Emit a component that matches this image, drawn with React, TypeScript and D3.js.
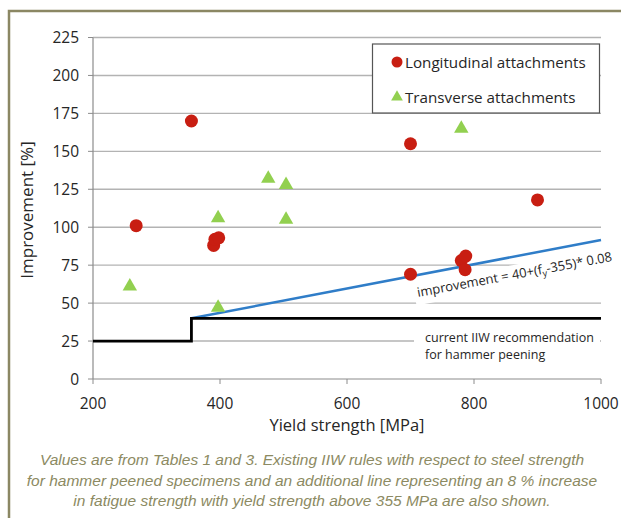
import React, { useRef, useEffect } from 'react';
import * as d3 from 'd3';

// scatter data
const longX = [268, 355, 390, 392, 398, 700, 700, 780, 786, 787, 900];
const longY = [101, 170, 88, 92, 93, 155, 69, 78, 72, 81, 118];
const transX = [258, 397, 397, 476, 504, 504, 780];
const transY = [61, 106, 47, 132, 128, 105, 165];

// current IIW step and the 8 % line
const iiwX = [200, 355, 355, 1000];
const iiwY = [25, 25, 40, 40];
const fitX = [355, 1000];
const fitY = [40, 91.6];

const yTicks = [0, 25, 50, 75, 100, 125, 150, 175, 200, 225];
const xTicks = [200, 400, 600, 800, 1000];

const caption = [
  'Values are from Tables 1 and 3. Existing IIW rules with respect to steel strength',
  'for hammer peened specimens and an additional line representing an 8 % increase',
  'in fatigue strength with yield strength above 355 MPa are also shown.',
];

const W = 621;
const H = 518;
const font = "'Open Sans', sans-serif";

const App = () => {
  const svgRef = useRef<SVGSVGElement>(null);

  useEffect(() => {
    const svg = d3.select(svgRef.current);
    svg.selectAll('*').remove();

    const x = d3.scaleLinear().domain([200, 1000]).range([93, 601]);
    const y = d3.scaleLinear().domain([0, 225]).range([379, 37.5]);

    svg.append('rect').attr('width', W).attr('height', H).attr('fill', '#fff');

    // olive frame
    svg.append('rect')
      .attr('x', 9).attr('y', 11)
      .attr('width', W).attr('height', H)
      .attr('fill', 'none')
      .attr('stroke', '#8b8763')
      .attr('stroke-width', 2.5);

    // gridlines
    svg.append('g')
      .selectAll('line')
      .data(yTicks.filter(d => d > 0))
      .enter()
      .append('line')
      .attr('x1', x(200)).attr('x2', x(1000))
      .attr('y1', d => y(d)).attr('y2', d => y(d))
      .attr('stroke', '#b3b3b3')
      .attr('stroke-width', 1.4);

    // axes
    const axisCol = '#8c8c8c';
    svg.append('line')
      .attr('x1', x(200)).attr('x2', x(200))
      .attr('y1', y(0)).attr('y2', y(225))
      .attr('stroke', axisCol).attr('stroke-width', 1.2);
    svg.append('line')
      .attr('x1', x(200)).attr('x2', x(1000))
      .attr('y1', y(0)).attr('y2', y(0))
      .attr('stroke', axisCol).attr('stroke-width', 1.2);

    svg.append('g')
      .selectAll('line')
      .data(yTicks)
      .enter()
      .append('line')
      .attr('x1', x(200) - 5).attr('x2', x(200))
      .attr('y1', d => y(d)).attr('y2', d => y(d))
      .attr('stroke', axisCol);
    svg.append('g')
      .selectAll('line')
      .data(xTicks)
      .enter()
      .append('line')
      .attr('x1', d => x(d)).attr('x2', d => x(d))
      .attr('y1', y(0)).attr('y2', y(0) + 5)
      .attr('stroke', axisCol);

    // tick labels
    svg.append('g')
      .selectAll('text')
      .data(yTicks)
      .enter()
      .append('text')
      .attr('x', 79)
      .attr('y', d => y(d) + 5.5)
      .attr('text-anchor', 'end')
      .style('font-family', font)
      .style('font-size', '15.5px')
      .attr('fill', '#262626')
      .text(d => d);
    svg.append('g')
      .selectAll('text')
      .data(xTicks)
      .enter()
      .append('text')
      .attr('x', d => x(d))
      .attr('y', 409)
      .attr('text-anchor', 'middle')
      .style('font-family', font)
      .style('font-size', '15.5px')
      .attr('fill', '#262626')
      .text(d => d);

    // axis titles
    svg.append('text')
      .attr('x', 347).attr('y', 431)
      .attr('text-anchor', 'middle')
      .style('font-family', font)
      .style('font-size', '16.5px')
      .attr('fill', '#262626')
      .text('Yield strength [MPa]');
    svg.append('text')
      .attr('text-anchor', 'middle')
      .attr('transform', 'translate(33,210)rotate(-90)')
      .style('font-family', font)
      .style('font-size', '17px')
      .attr('fill', '#262626')
      .text('Improvement [%]');

    // label backgrounds
    const eq = svg.append('g').attr('transform', 'translate(418,297)rotate(-10.5)');
    eq.append('rect')
      .attr('x', -3).attr('y', -14)
      .attr('width', 200).attr('height', 22)
      .attr('fill', '#fff');
    svg.append('rect')
      .attr('x', 414).attr('y', 328)
      .attr('width', 186).attr('height', 36)
      .attr('fill', '#fff');

    // lines
    const path = d3.line<[number, number]>().x(d => x(d[0])).y(d => y(d[1]));

    svg.append('path')
      .attr('d', path(fitX.map((v, i) => [v, fitY[i]] as [number, number])))
      .attr('fill', 'none')
      .attr('stroke', '#2f7dc8')
      .attr('stroke-width', 2.5);
    svg.append('path')
      .attr('d', path(iiwX.map((v, i) => [v, iiwY[i]] as [number, number])))
      .attr('fill', 'none')
      .attr('stroke', '#000')
      .attr('stroke-width', 2.8);

    // equation text
    const eqText = eq.append('text')
      .style('font-family', font)
      .style('font-size', '13px')
      .attr('fill', '#262626');
    eqText.append('tspan').text('improvement = 40+(f');
    eqText.append('tspan').attr('dy', 3).style('font-size', '9px').text('y');
    eqText.append('tspan').attr('dy', -3).text('-355)* 0.08');

    svg.append('text')
      .attr('x', 425).attr('y', 342)
      .style('font-family', font)
      .style('font-size', '12.5px')
      .attr('fill', '#262626')
      .text('current IIW recommendation');
    svg.append('text')
      .attr('x', 425).attr('y', 359)
      .style('font-family', font)
      .style('font-size', '12.5px')
      .attr('fill', '#262626')
      .text('for hammer peening');

    // points
    const red = '#c81e12';
    const green = '#92d050';
    const tri = d3.symbol().type(d3.symbolTriangle).size(90);

    svg.append('g')
      .selectAll('path')
      .data(transX)
      .enter()
      .append('path')
      .attr('d', tri)
      .attr('transform', (d, i) => `translate(${x(d)},${y(transY[i])})`)
      .attr('fill', green);

    svg.append('g')
      .selectAll('circle')
      .data(longX)
      .enter()
      .append('circle')
      .attr('cx', d => x(d))
      .attr('cy', (d, i) => y(longY[i]))
      .attr('r', 6.5)
      .attr('fill', red);

    // legend
    const lg = svg.append('g');
    lg.append('rect')
      .attr('x', 372.5).attr('y', 44)
      .attr('width', 227).attr('height', 69)
      .attr('fill', '#fff')
      .attr('stroke', '#555')
      .attr('stroke-width', 1.2);
    lg.append('circle').attr('cx', 397).attr('cy', 62).attr('r', 5.5).attr('fill', red);
    lg.append('path')
      .attr('d', d3.symbol().type(d3.symbolTriangle).size(60)())
      .attr('transform', 'translate(397,97)')
      .attr('fill', green);
    lg.append('text')
      .attr('x', 405).attr('y', 67.5)
      .style('font-family', font)
      .style('font-size', '15.2px')
      .attr('fill', '#262626')
      .text('Longitudinal attachments');
    lg.append('text')
      .attr('x', 405).attr('y', 102.5)
      .style('font-family', font)
      .style('font-size', '15.2px')
      .attr('fill', '#262626')
      .text('Transverse attachments');

    // caption
    svg.append('g')
      .selectAll('text')
      .data(caption)
      .enter()
      .append('text')
      .attr('x', 312)
      .attr('y', (d, i) => 465 + i * 20.5)
      .attr('text-anchor', 'middle')
      .style('font-family', "'Liberation Sans', Arial, sans-serif")
      .style('font-style', 'italic')
      .style('font-size', '15.5px')
      .attr('fill', '#8c8a62')
      .text(d => d);
  }, []);

  return (
    <div style={{ position: 'absolute', left: 0, top: 0 }}>
      <svg ref={svgRef} width={W} height={H} style={{ display: 'block' }}></svg>
    </div>
  );
};

export default App;
